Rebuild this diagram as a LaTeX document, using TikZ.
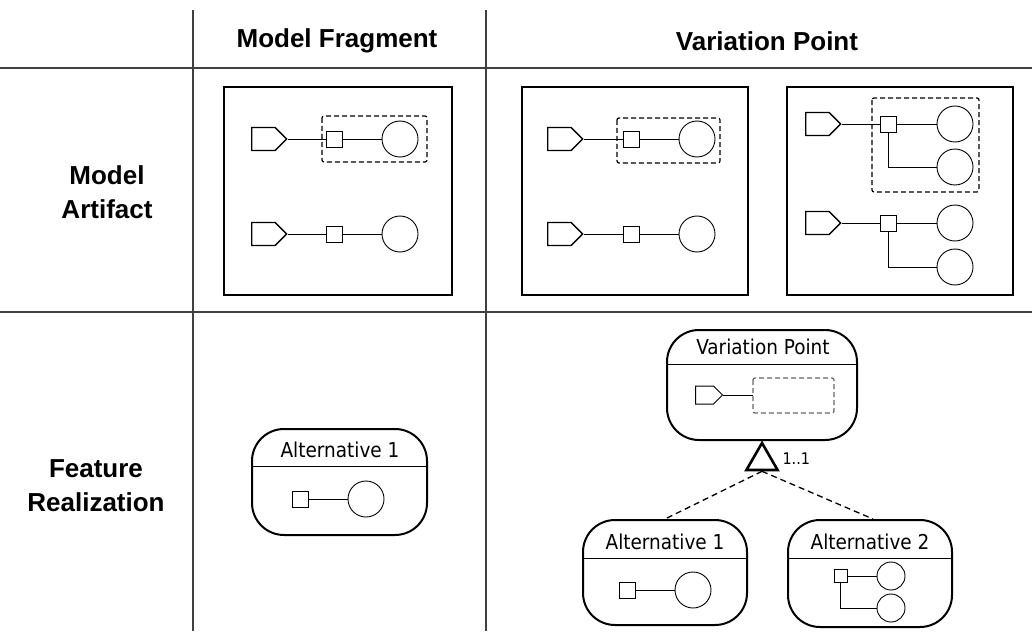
\documentclass[tikz,border=0pt]{standalone}
\usepackage{fontspec}
\setmainfont{DejaVu Sans Condensed}
\newfontfamily\headfont{Liberation Sans}
\usetikzlibrary{shapes.symbols,shapes.geometric}
\tikzset{
  gridline/.style={black!75, line width=1.2pt},
  header/.style={font=\headfont\bfseries\fontsize{26}{34}\selectfont, align=center},
  artifact/.style={draw, line width=2pt},
  port/.style={draw, signal, signal to=east, signal pointer angle=90,
    inner sep=0pt, minimum width=35pt, minimum height=23pt, line width=1.4pt, anchor=west},
  smallport/.style={port, minimum width=27pt, minimum height=18pt, line width=1pt},
  sq/.style={draw, rectangle, inner sep=0pt, minimum size=16pt, line width=0.9pt},
  comp/.style={draw, circle, inner sep=0pt, minimum size=36pt, line width=0.9pt},
  wire/.style={line width=0.9pt},
  frag/.style={line width=1.2pt, dash pattern=on 5pt off 3pt, rounded corners=2pt},
  feature/.style={draw, rectangle, rounded corners=32pt, line width=2pt, inner sep=0pt},
  ftitle/.style={font=\fontsize{20.5}{24}\selectfont},
  group/.style={draw, regular polygon, regular polygon sides=3, inner sep=0pt,
    minimum size=36pt, line width=2.6pt},
  alt/.style={line width=1.3pt, dash pattern=on 6pt off 4pt}
}
\begin{document}
\begin{tikzpicture}[x=1pt, y=-1pt]
  \useasboundingbox (0,0) rectangle (1032,631);
  %
  % Table
  \draw[gridline] (0,68) -- (1032,68);
  \draw[gridline] (0,312) -- (1032,312);
  \draw[gridline] (193,10) -- (193,631);
  \draw[gridline] (486,10) -- (486,631);
  \node[header] (mfhead) at (337,41) {Model Fragment};
  \node[header] (vphead) at (767,41) {Variation Point};
  \node[header] (marow) at (107,192) {Model\\Artifact};
  \node[header] (frrow) at (96,486) {Feature\\Realization};
  %
  % Model artifact, fragment
  \draw[artifact] (224,87) rectangle (452,295);
  \node[port] (p1) at (251,139) {};
  \node[sq] (s1) at (334,139) {};
  \node[comp] (c1) at (400,139) {};
  \draw[wire] (p1) -- (s1) -- (c1);
  \draw[frag] (322,116) rectangle (427,162);
  \node[port] (p2) at (251,234) {};
  \node[sq] (s2) at (334,234) {};
  \node[comp] (c2) at (400,234) {};
  \draw[wire] (p2) -- (s2) -- (c2);
  %
  % Model artifact, variation point
  \draw[artifact] (522,87) rectangle (748,295);
  \node[port] (p3) at (547,139) {};
  \node[sq] (s3) at (631,139) {};
  \node[comp] (c3) at (697,139) {};
  \draw[wire] (p3) -- (s3) -- (c3);
  \draw[frag] (617,118) rectangle (720,163);
  \node[port] (p4) at (547,234) {};
  \node[sq] (s4) at (631,234) {};
  \node[comp] (c4) at (697,234) {};
  \draw[wire] (p4) -- (s4) -- (c4);
  %
  \draw[artifact] (787,87) rectangle (1013,295);
  \node[port] (p5) at (805,124) {};
  \node[sq] (s5) at (888,124) {};
  \node[comp] (c5) at (955,124) {};
  \node[comp] (c6) at (955,167) {};
  \draw[wire] (p5) -- (s5) -- (c5);
  \draw[wire] (s5) |- (c6);
  \draw[frag] (872,98) rectangle (979,192);
  \node[port] (p6) at (805,223) {};
  \node[sq] (s6) at (888,223) {};
  \node[comp] (c7) at (955,223) {};
  \node[comp] (c8) at (955,267) {};
  \draw[wire] (p6) -- (s6) -- (c7);
  \draw[wire] (s6) |- (c8);
  %
  % Feature realization, fragment
  \node[feature, minimum width=175pt, minimum height=106pt] (fa) at (339.5,482) {};
  \node[ftitle] (fatitle) at (340,450) {Alternative 1};
  \draw[line width=1pt] (252,466) -- (427,466);
  \node[sq] (s7) at (300,499) {};
  \node[comp] (c9) at (366,499) {};
  \draw[wire] (s7) -- (c9);
  %
  % Feature realization, variation point
  \node[feature, minimum width=190pt, minimum height=110pt] (vp) at (762,385) {};
  \node[ftitle] (vptitle) at (763,347) {Variation Point};
  \draw[line width=1pt] (667,364) -- (857,364);
  \node[smallport] (p7) at (695,395) {};
  \coordinate (hole) at (753,395);
  \draw[wire] (p7) -- (hole);
  \draw[frag, black!60] (753,378) rectangle (834,413);
  %
  \node[group] (xor) at (762,461) {};
  \node[font=\fontsize{16}{18}\selectfont, anchor=west] (card) at (779,459) {1..1};
  %
  \node[feature, minimum width=164pt, minimum height=105pt] (alt1) at (665,572.5) {};
  \node[ftitle] (alt1title) at (665,542) {Alternative 1};
  \draw[line width=1pt] (583,558) -- (747,558);
  \node[sq] (s8) at (627.5,590) {};
  \node[comp] (c10) at (693,590) {};
  \draw[wire] (s8) -- (c10);
  %
  \node[feature, minimum width=164pt, minimum height=107pt] (alt2) at (870,573.5) {};
  \node[ftitle] (alt2title) at (870,542) {Alternative 2};
  \draw[line width=1pt] (788,558) -- (952,558);
  \node[sq, minimum size=13pt] (s9) at (840.5,576) {};
  \node[comp, minimum size=28pt] (c11) at (891,576) {};
  \node[comp, minimum size=28pt] (c12) at (891,608) {};
  \draw[wire] (s9) -- (c11);
  \draw[wire] (s9) |- (c12);
  %
  % Alternatives
  \draw[alt] (xor.south) -- (alt1.north);
  \draw[alt] (xor.south) -- ([xshift=3pt]alt2.north);
\end{tikzpicture}
\end{document}
